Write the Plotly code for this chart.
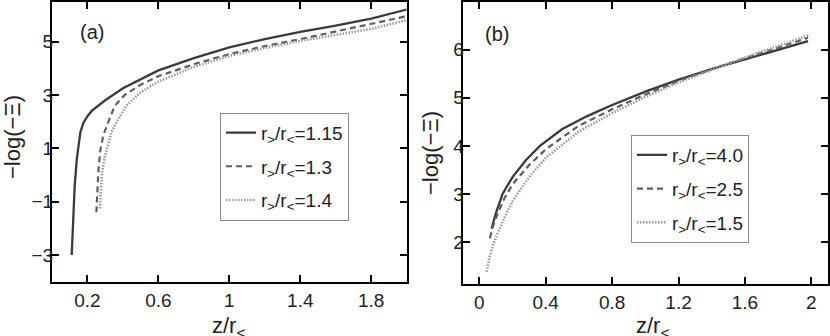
import plotly.graph_objects as go

# ---- data panel (a) ----
a_x_115 = [0.111, 0.118, 0.128, 0.14, 0.15, 0.16, 0.177, 0.2, 0.224, 0.3, 0.4, 0.5, 0.6, 0.8, 1.0, 1.2, 1.4, 1.6, 1.8, 2.0]
a_y_115 = [-3.0, -1.8, -0.4, 0.6, 1.2, 1.6, 1.95, 2.2, 2.4, 2.8, 3.25, 3.6, 3.92, 4.38, 4.78, 5.09, 5.36, 5.6, 5.86, 6.2]
a_x_13 = [0.25, 0.255, 0.262, 0.272, 0.29, 0.318, 0.355, 0.41, 0.5, 0.6, 0.8, 1.0, 1.2, 1.4, 1.6, 1.8, 2.0]
a_y_13 = [-1.4, -0.6, 0.2, 0.9, 1.5, 2.0, 2.6, 3.0, 3.38, 3.7, 4.15, 4.53, 4.83, 5.09, 5.38, 5.65, 5.95]
a_x_14 = [0.27, 0.275, 0.282, 0.295, 0.31, 0.335, 0.365, 0.42, 0.5, 0.6, 0.8, 1.0, 1.2, 1.4, 1.6, 1.8, 2.0]
a_y_14 = [-1.25, -0.5, 0.1, 0.6, 1.0, 1.6, 2.0, 2.6, 3.1, 3.5, 4.05, 4.46, 4.76, 5.02, 5.25, 5.47, 5.8]

# ---- data panel (b) ----
b_x_40 = [0.074, 0.1, 0.14, 0.2, 0.28, 0.365, 0.5, 0.65, 0.8, 1.0, 1.2, 1.4, 1.6, 1.8, 1.98]
b_y_40 = [2.28, 2.6, 3.0, 3.35, 3.7, 4.0, 4.35, 4.62, 4.85, 5.13, 5.38, 5.6, 5.8, 6.0, 6.18]
b_x_25 = [0.064, 0.08, 0.1, 0.15, 0.2, 0.3, 0.4, 0.6, 0.8, 1.0, 1.2, 1.4, 1.6, 1.8, 1.98]
b_y_25 = [2.08, 2.3, 2.5, 2.9, 3.2, 3.6, 3.93, 4.42, 4.76, 5.07, 5.35, 5.6, 5.82, 6.05, 6.25]
b_x_15 = [0.044, 0.06, 0.08, 0.1, 0.15, 0.2, 0.3, 0.4, 0.6, 0.8, 1.0, 1.2, 1.4, 1.6, 1.8, 1.99]
b_y_15 = [1.38, 1.65, 1.9, 2.1, 2.5, 2.85, 3.35, 3.75, 4.3, 4.68, 5.02, 5.32, 5.58, 5.84, 6.08, 6.31]

a_ticks_x = [0.2, 0.6, 1.0, 1.4, 1.8]
a_tick_x_labels = ["0.2", "0.6", "1", "1.4", "1.8"]
a_ticks_y = [-3, -1, 1, 3, 5]
b_ticks_x = [0, 0.4, 0.8, 1.2, 1.6, 2.0]
b_tick_x_labels = ["0", "0.4", "0.8", "1.2", "1.6", "2"]
b_ticks_y = [2, 3, 4, 5, 6]

FONT = "Liberation Sans, Arial, sans-serif"
FS = 19
SOLID = dict(color="#3a3a3a", width=2.3)
DASH = dict(color="#5e5e5e", width=2.2, dash="6px,4px")
DOT = dict(color="#9a9a9a", width=2.6, dash="1.5px,1.5px")

def lab(v):
    return "r<sub>&gt;</sub>/r<sub>&lt;</sub>=" + v

fig = go.Figure()
fig.add_trace(go.Scatter(x=a_x_115, y=a_y_115, mode="lines", line=SOLID, name=lab("1.15"),
                         xaxis="x", yaxis="y", legend="legend", legendgroup="a1"))
fig.add_trace(go.Scatter(x=a_x_13, y=a_y_13, mode="lines", line=DASH, name=lab("1.3"),
                         xaxis="x", yaxis="y", legend="legend", legendgroup="a2"))
fig.add_trace(go.Scatter(x=a_x_14, y=a_y_14, mode="lines", line=DOT, name=lab("1.4"),
                         xaxis="x", yaxis="y", legend="legend", legendgroup="a3"))
fig.add_trace(go.Scatter(x=b_x_40, y=b_y_40, mode="lines", line=SOLID, name=lab("4.0"),
                         xaxis="x2", yaxis="y2", legend="legend2", legendgroup="b1"))
fig.add_trace(go.Scatter(x=b_x_25, y=b_y_25, mode="lines", line=DASH, name=lab("2.5"),
                         xaxis="x2", yaxis="y2", legend="legend2", legendgroup="b2"))
fig.add_trace(go.Scatter(x=b_x_15, y=b_y_15, mode="lines", line=DOT, name=lab("1.5"),
                         xaxis="x2", yaxis="y2", legend="legend2", legendgroup="b3"))

W, H = 830, 336
def px(v):
    return v / W
def py(v):
    return 1 - v / H

axis_x = dict(showline=True, linecolor="black", linewidth=2, mirror="ticks",
              ticks="inside", ticklen=7, tickwidth=1.6, tickcolor="black",
              showgrid=False, zeroline=False,
              tickfont=dict(family=FONT, size=FS, color="#222"))
axis_y = dict(axis_x, ticklabelstandoff=-7)

LEG = dict(xanchor="left", yanchor="top", bordercolor="#8a8a8a", borderwidth=1, bgcolor="white",
           font=dict(family=FONT, size=19, color="#222"),
           itemwidth=30, tracegroupgap=6, traceorder="grouped")

fig.update_layout(
    width=W, height=H,
    margin=dict(l=0, r=0, t=0, b=0),
    paper_bgcolor="white", plot_bgcolor="white",
    font=dict(family=FONT, size=FS, color="#222"),
    xaxis=dict(domain=[px(52), px(406.7)], range=[0, 2], tickvals=a_ticks_x,
               ticktext=a_tick_x_labels, anchor="y", **axis_x),
    yaxis=dict(domain=[py(281.7), py(1.5)], range=[-4, 6.5], tickvals=a_ticks_y,
               anchor="x", **axis_y),
    xaxis2=dict(domain=[px(462.7), px(828)], range=[-0.1, 2.1], tickvals=b_ticks_x,
                ticktext=b_tick_x_labels, anchor="y2", **axis_x),
    yaxis2=dict(domain=[py(284.3), py(1.7)], range=[1.12, 7.0], tickvals=b_ticks_y,
                anchor="x2", **axis_y),
    legend=dict(x=px(220), y=py(112.7), **LEG),
    legend2=dict(x=px(631), y=py(135), **LEG),
    showlegend=True,
)

ann = []
ann.append(dict(text="(a)", x=px(78), y=py(32), xref="paper", yref="paper",
                xanchor="left", yanchor="middle", showarrow=False,
                font=dict(family=FONT, size=20, color="#222")))
ann.append(dict(text="(b)", x=px(483), y=py(34), xref="paper", yref="paper",
                xanchor="left", yanchor="middle", showarrow=False,
                font=dict(family=FONT, size=20, color="#222")))
for xc, yc in [(12, 137), (431, 153)]:
    ann.append(dict(text="−log(−Ξ)", x=px(xc), y=py(yc), xref="paper", yref="paper",
                    xanchor="center", yanchor="middle", showarrow=False, textangle=-90,
                    font=dict(family=FONT, size=22, color="#222")))
for xc in [228, 652]:
    ann.append(dict(text="z/r<sub>&lt;</sub>", x=px(xc), y=py(311), xref="paper", yref="paper",
                    xanchor="center", yanchor="top", showarrow=False,
                    font=dict(family=FONT, size=22, color="#222")))
fig.update_layout(annotations=ann)

fig.write_html("out.html", config={"displayModeBar": False},
               post_script="document.body.style.margin='0';document.body.style.overflow='hidden';")
